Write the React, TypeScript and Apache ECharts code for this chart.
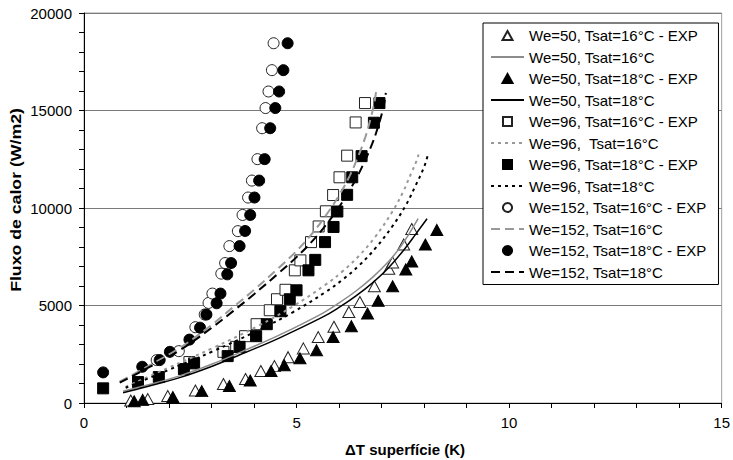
import React, { useEffect, useRef } from "react";
import * as echarts from "echarts";

// ΔT superfície (K), Fluxo de calor (W/m2)
const we50T16Exp: number[][] = [[1.10,130],[1.50,200],[1.97,360],[2.62,640],[3.28,970],[3.80,1230],[4.16,1640],[4.48,1890],[4.80,2350],[5.16,2800],[5.51,3380],[5.88,3910],[6.23,4670],[6.49,5180],[6.83,5985],[7.17,6880],[7.26,7210],[7.52,8130],[7.71,8925]];
const we50T16Model: number[][] = [[0.92,600],[1.47,910],[2.25,1390],[3.03,2010],[3.81,2730],[4.59,3480],[5.61,4600],[6.0,5130],[6.39,5730],[6.78,6430],[7.17,7270],[7.45,8020],[7.64,8650],[7.86,9450]];
const we50T18Exp: number[][] = [[1.18,90],[1.38,160],[2.09,310],[2.77,610],[3.42,870],[3.91,1150],[4.40,1640],[4.71,1940],[5.08,2290],[5.47,2710],[5.86,3380],[6.29,3940],[6.67,4590],[6.92,5240],[7.26,5985],[7.57,6850],[7.71,7260],[8.03,8130],[8.30,8875]];
const we50T18Model: number[][] = [[0.92,527],[1.47,834],[2.25,1300],[3.03,1900],[3.81,2600],[4.59,3330],[5.61,4400],[6.0,4900],[6.39,5480],[6.78,6150],[7.17,6950],[7.56,7950],[7.8,8650],[8.07,9450]];
const we96T16Exp: number[][] = [[2.48,2100],[3.28,2624],[3.58,2880],[3.79,3427],[4.06,4041],[4.37,4757],[4.54,5320],[4.74,5806],[4.96,6803],[5.09,7314],[5.34,8251],[5.52,9053],[5.69,9831],[5.86,10665],[6.01,11575],[6.19,12685],[6.39,14388],[6.61,15381]];
const we96T16Model: number[][] = [[0.98,830],[1.94,1760],[3.03,2820],[4.12,3980],[4.91,4950],[5.69,6080],[6.08,6750],[6.47,7550],[6.86,8550],[7.25,9800],[7.5,10800],[7.7,11800],[7.82,12400],[7.87,12740]];
const we96T18Exp: number[][] = [[0.45,752],[1.27,1074],[1.76,1330],[2.35,1739],[2.59,2031],[3.38,2404],[3.66,2880],[4.05,3427],[4.30,4041],[4.62,4706],[4.84,5320],[5.00,5780],[5.28,6803],[5.44,7340],[5.67,8251],[5.87,9028],[5.96,9821],[6.19,10675],[6.31,11575],[6.53,12659],[6.82,14373],[6.95,15381]];
const we96T18Model: number[][] = [[0.98,780],[1.94,1650],[3.03,2650],[4.12,3750],[4.91,4650],[5.69,5700],[6.08,6320],[6.47,7050],[6.86,7950],[7.25,9050],[7.56,10100],[7.8,11150],[8.0,12100],[8.09,12740]];
const we152T16Exp: number[][] = [[1.71,2200],[2.23,2660],[2.62,3887],[2.84,4537],[2.93,5130],[3.02,5611],[3.23,6634],[3.32,7176],[3.42,8046],[3.62,8813],[3.73,9642],[3.86,10537],[3.95,11406],[4.08,12506],[4.19,14092],[4.27,15125],[4.34,15974],[4.42,17069],[4.46,18450]];
const we152T16Model: number[][] = [[0.84,1100],[1.5,1880],[2.25,2820],[3.0,4000],[3.5,4900],[4.0,5800],[4.59,6950],[5.0,7800],[5.37,8700],[5.7,9650],[6.0,10650],[6.25,11650],[6.45,12650],[6.62,13650],[6.75,14650],[6.83,15400],[6.87,15950]];
const we152T18Exp: number[][] = [[0.45,1570],[1.37,1857],[1.78,2200],[2.02,2624],[2.48,3250],[2.73,3862],[2.88,4537],[3.12,5115],[3.21,5611],[3.37,6598],[3.46,7176],[3.66,8046],[3.79,8823],[3.91,9642],[4.01,10537],[4.12,11406],[4.25,12506],[4.38,14092],[4.50,15125],[4.59,15974],[4.69,17069],[4.79,18450]];
const we152T18Model: number[][] = [[0.84,1040],[1.5,1800],[2.25,2700],[3.0,3850],[3.5,4700],[4.0,5580],[4.59,6680],[5.0,7480],[5.37,8300],[5.7,9150],[6.0,10050],[6.3,11100],[6.55,12150],[6.78,13300],[6.95,14400],[7.05,15250],[7.1,15900]];

const seriesNames: string[] = [
  "We=50, Tsat=16°C - EXP",
  "We=50, Tsat=16°C",
  "We=50, Tsat=18°C - EXP",
  "We=50, Tsat=18°C",
  "We=96, Tsat=16°C - EXP",
  "We=96,  Tsat=16°C",
  "We=96, Tsat=18°C - EXP",
  "We=96, Tsat=18°C",
  "We=152, Tsat=16°C - EXP",
  "We=152, Tsat=16°C",
  "We=152, Tsat=18°C - EXP",
  "We=152, Tsat=18°C",
];

const xTitle = "ΔT superfície (K)";
const yTitle = "Fluxo de calor (W/m2)";

const FONT = "'Liberation Sans', Arial, sans-serif";

const ICON_TRI = "path://M5,0 L10,9 L0,9 Z";
const ICON_SQ = "path://M0,0 L9,0 L9,9 L0,9 Z";
const ICON_CIR = "path://M4.5,0 A4.5,4.5 0 1 1 4.49,0 Z";

function scatter(name: string, data: number[][], symbol: string, size: number | number[], filled: boolean) {
  return {
    name,
    type: "scatter",
    data,
    symbol,
    symbolSize: size,
    itemStyle: filled
      ? { color: "#000", borderColor: "#000", borderWidth: 1, opacity: 1 }
      : { color: "#fff", borderColor: "#222", borderWidth: 1, opacity: 1 },
  };
}

function line(name: string, data: number[][], color: string, width: number, type: any) {
  return {
    name,
    type: "line",
    data,
    smooth: 0.4,
    symbol: "circle",
    symbolSize: 0,
    showSymbol: false,
    lineStyle: { color, width, type },
    itemStyle: { color: "rgba(0,0,0,0)", borderWidth: 0 },
  };
}

export default function App() {
  const ref = useRef<HTMLDivElement>(null);
  useEffect(() => {
    const chart = echarts.init(ref.current!, undefined, { renderer: "svg" });
    const axisCommon = {
      type: "value",
      axisLine: { show: true, onZero: false, lineStyle: { color: "#000", width: 1 } },
      axisTick: { show: true, length: 5, lineStyle: { color: "#000" } },
      minorTick: { show: true, splitNumber: 5, length: 5, lineStyle: { color: "#000" } },
      axisLabel: { color: "#000", fontSize: 15, fontFamily: FONT, margin: 12, formatter: (v: number) => String(v) },
    };
    const legendIcons = [ICON_TRI, null, ICON_TRI, null, ICON_SQ, null, ICON_SQ, null, ICON_CIR, null, ICON_CIR, null];
    const option: any = {
      animation: false,
      backgroundColor: "#fff",
      grid: { left: 84, right: 9, top: 13, bottom: 57, show: true, borderColor: "#a0a0a0", borderWidth: 1 },
      xAxis: { ...axisCommon, min: 0, max: 15, interval: 5, splitLine: { show: false } },
      yAxis: {
        ...axisCommon,
        min: 0,
        max: 20000,
        interval: 5000,
        splitLine: { show: true, lineStyle: { color: "#7a7a7a", width: 1 } },
      },
      legend: {
        show: true,
        selectedMode: false,
        orient: "vertical",
        left: 483,
        top: 23,
        itemWidth: 33,
        itemHeight: 9,
        itemGap: 6.5,
        padding: [5, 12, 5, 7],
        borderColor: "#000",
        borderWidth: 1,
        backgroundColor: "#fff",
        symbolKeepAspect: true,
        textStyle: { color: "#000", fontSize: 15, fontFamily: FONT, lineHeight: 15 },
        data: seriesNames.map((n, i) => (legendIcons[i] ? { name: n, icon: legendIcons[i] } : { name: n })),
      },
      graphic: [
        {
          type: "text",
          x: 16,
          y: 200,
          rotation: Math.PI / 2,
          scaleX: 1.18,
          style: { text: yTitle, font: `bold 15px ${FONT}`, fill: "#000", align: "center", verticalAlign: "middle" },
        },
        {
          type: "text",
          x: 405,
          y: 449,
          style: { text: xTitle, font: `bold 15px ${FONT}`, fill: "#000", align: "center", verticalAlign: "middle" },
        },
      ],
      series: [
        scatter(seriesNames[0], we50T16Exp, "triangle", [12, 11], false),
        line(seriesNames[1], we50T16Model, "#8c8c8c", 1.5, "solid"),
        scatter(seriesNames[2], we50T18Exp, "triangle", [12, 11], true),
        line(seriesNames[3], we50T18Model, "#000", 1.5, "solid"),
        scatter(seriesNames[4], we96T16Exp, "rect", 11, false),
        line(seriesNames[5], we96T16Model, "#999", 2, [3, 4]),
        scatter(seriesNames[6], we96T18Exp, "rect", 11, true),
        line(seriesNames[7], we96T18Model, "#000", 2, [3, 4]),
        scatter(seriesNames[8], we152T16Exp, "circle", 11, false),
        line(seriesNames[9], we152T16Model, "#999", 2, [9, 5]),
        scatter(seriesNames[10], we152T18Exp, "circle", 11, true),
        line(seriesNames[11], we152T18Model, "#000", 2, [9, 5]),
      ],
    };
    chart.setOption(option);
    return () => chart.dispose();
  }, []);
  return <div ref={ref} style={{ position: "absolute", left: 0, top: 0, width: 733, height: 460 }} />;
}
